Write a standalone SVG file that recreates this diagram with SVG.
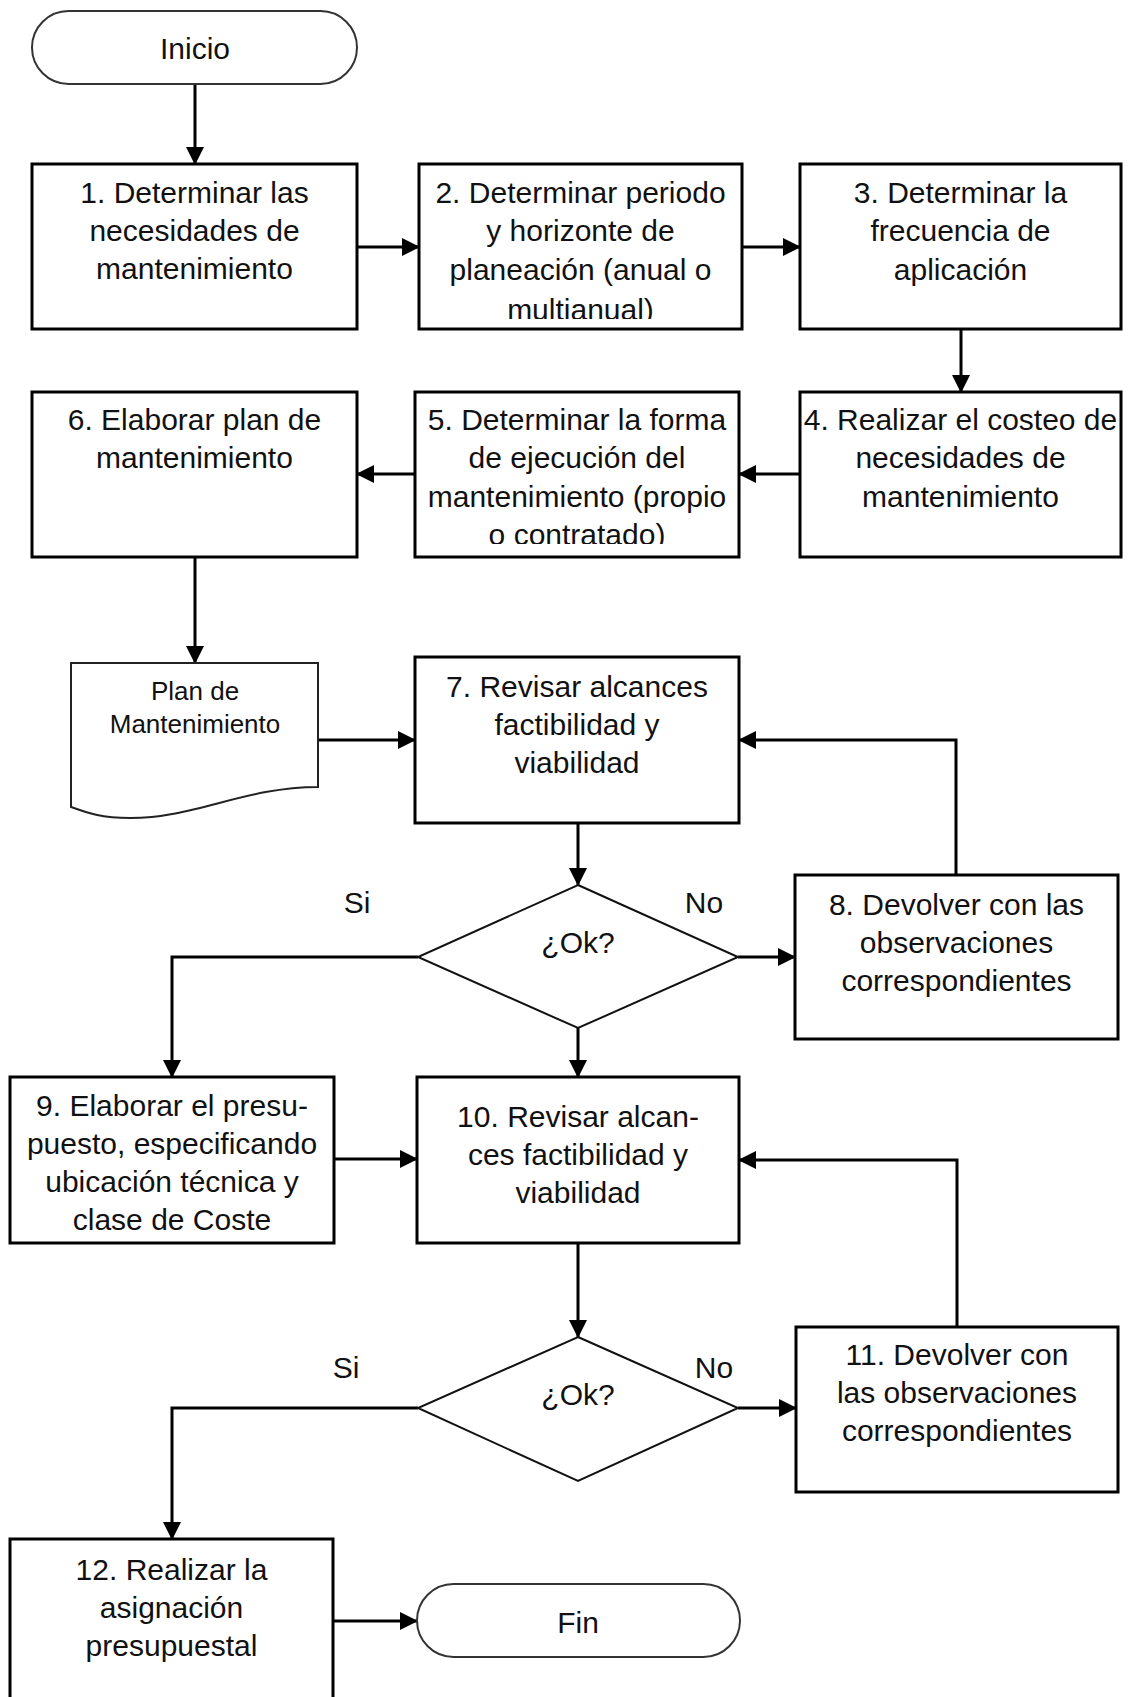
<svg xmlns="http://www.w3.org/2000/svg" width="1128" height="1697" viewBox="0 0 1128 1697">
  <defs>
    <marker id="arr" markerUnits="userSpaceOnUse" markerWidth="18" markerHeight="18" refX="17" refY="9" orient="auto">
      <path d="M0,0 L18,9 L0,18 Z" fill="#000"/>
    </marker>
    <clipPath id="clip2"><rect x="419" y="164" width="323" height="155"/></clipPath>
    <clipPath id="clip5"><rect x="415" y="392" width="324" height="152"/></clipPath>
  </defs>
  <style>
    .box { fill: #fff; stroke: #000; stroke-width: 3; }
    .term { fill: #fff; stroke: #333; stroke-width: 2; }
    .doc { fill: #fff; stroke: #222; stroke-width: 2; }
    .dia { fill: #fff; stroke: #111; stroke-width: 2; }
    .t { font-family: "Liberation Sans", Arial, sans-serif; font-size: 30px; fill: #111; text-anchor: middle; }
    .td { font-family: "Liberation Sans", Arial, sans-serif; font-size: 26px; fill: #111; text-anchor: middle; }
    .c { fill: none; stroke: #000; stroke-width: 3; marker-end: url(#arr); }
  </style>
  <rect width="1128" height="1697" fill="#fff"/>

  <g id="connectors">
    <path class="c" d="M195,84 V164"/>
    <path class="c" d="M357,247 H419"/>
    <path class="c" d="M742,247 H800"/>
    <path class="c" d="M961,329 V392"/>
    <path class="c" d="M800,474 H739"/>
    <path class="c" d="M415,474 H357"/>
    <path class="c" d="M195,557 V663"/>
    <path class="c" d="M318,740 H415"/>
    <path class="c" d="M578,823 V885"/>
    <path class="c" d="M738,957 H795"/>
    <path class="c" d="M956,875 V740 H739"/>
    <path class="c" d="M418,957 H172 V1077"/>
    <path class="c" d="M578,1028 V1077"/>
    <path class="c" d="M334,1159 H417"/>
    <path class="c" d="M957,1327 V1160 H739"/>
    <path class="c" d="M578,1243 V1337"/>
    <path class="c" d="M738,1408 H796"/>
    <path class="c" d="M418,1408 H172 V1539"/>
    <path class="c" d="M333,1621 H417"/>
  </g>

  <g id="inicio">
    <rect class="term" x="32" y="11" width="325" height="73" rx="36.5" ry="36.5"/>
    <text class="t" x="195" y="59">Inicio</text>
  </g>

  <g id="n1">
    <rect class="box" x="32" y="164" width="325" height="165"/>
    <text class="t" x="194.5" y="203">1. Determinar las</text>
    <text class="t" x="194.5" y="241">necesidades de</text>
    <text class="t" x="194.5" y="279">mantenimiento</text>
  </g>

  <g id="n2">
    <rect class="box" x="419" y="164" width="323" height="165"/>
    <text class="t" x="580.5" y="203">2. Determinar periodo</text>
    <text class="t" x="580.5" y="241">y horizonte de</text>
    <text class="t" x="580.5" y="280">planeación (anual o</text>
    <text class="t" x="580.5" y="320" clip-path="url(#clip2)">multianual)</text>
  </g>

  <g id="n3">
    <rect class="box" x="800" y="164" width="321" height="165"/>
    <text class="t" x="960.5" y="203">3. Determinar la</text>
    <text class="t" x="960.5" y="241">frecuencia de</text>
    <text class="t" x="960.5" y="280">aplicación</text>
  </g>

  <g id="n4">
    <rect class="box" x="800" y="392" width="321" height="165"/>
    <text class="t" x="960.5" y="430">4. Realizar el costeo de</text>
    <text class="t" x="960.5" y="468">necesidades de</text>
    <text class="t" x="960.5" y="507">mantenimiento</text>
  </g>

  <g id="n5">
    <rect class="box" x="415" y="392" width="324" height="165"/>
    <text class="t" x="577" y="430">5. Determinar la forma</text>
    <text class="t" x="577" y="468">de ejecución del</text>
    <text class="t" x="577" y="507">mantenimiento (propio</text>
    <text class="t" x="577" y="545" clip-path="url(#clip5)">o contratado)</text>
  </g>

  <g id="n6">
    <rect class="box" x="32" y="392" width="325" height="165"/>
    <text class="t" x="194.5" y="430">6. Elaborar plan de</text>
    <text class="t" x="194.5" y="468">mantenimiento</text>
  </g>

  <g id="doc">
    <path class="doc" d="M71,663 H318 V787 C245,787 195,818 130,818 C100,818 85,812 71,807 Z"/>
    <text class="td" x="195" y="700">Plan de</text>
    <text class="td" x="195" y="733">Mantenimiento</text>
  </g>

  <g id="n7">
    <rect class="box" x="415" y="657" width="324" height="166"/>
    <text class="t" x="577" y="697">7. Revisar alcances</text>
    <text class="t" x="577" y="735">factibilidad y</text>
    <text class="t" x="577" y="773">viabilidad</text>
  </g>

  <g id="d1">
    <polygon class="dia" points="578,885 738,957 578,1028 418,957"/>
    <text class="t" x="578" y="953">¿Ok?</text>
  </g>

  <g id="n8">
    <rect class="box" x="795" y="875" width="323" height="164"/>
    <text class="t" x="956.5" y="915">8. Devolver con las</text>
    <text class="t" x="956.5" y="953">observaciones</text>
    <text class="t" x="956.5" y="991">correspondientes</text>
  </g>

  <g id="n9">
    <rect class="box" x="10" y="1077" width="324" height="166"/>
    <text class="t" x="172" y="1116">9. Elaborar el presu-</text>
    <text class="t" x="172" y="1154">puesto, especificando</text>
    <text class="t" x="172" y="1192">ubicación técnica y</text>
    <text class="t" x="172" y="1230">clase de Coste</text>
  </g>

  <g id="n10">
    <rect class="box" x="417" y="1077" width="322" height="166"/>
    <text class="t" x="578" y="1127">10. Revisar alcan-</text>
    <text class="t" x="578" y="1165">ces factibilidad y</text>
    <text class="t" x="578" y="1203">viabilidad</text>
  </g>

  <g id="d2">
    <polygon class="dia" points="578,1337 738,1408 578,1481 418,1408"/>
    <text class="t" x="578" y="1405">¿Ok?</text>
  </g>

  <g id="n11">
    <rect class="box" x="796" y="1327" width="322" height="165"/>
    <text class="t" x="957" y="1365">11. Devolver con</text>
    <text class="t" x="957" y="1403">las observaciones</text>
    <text class="t" x="957" y="1441">correspondientes</text>
  </g>

  <g id="n12">
    <rect class="box" x="10" y="1539" width="323" height="180"/>
    <text class="t" x="171.5" y="1580">12. Realizar la</text>
    <text class="t" x="171.5" y="1618">asignación</text>
    <text class="t" x="171.5" y="1656">presupuestal</text>
  </g>

  <g id="fin">
    <rect class="term" x="417" y="1584" width="323" height="73" rx="36.5" ry="36.5"/>
    <text class="t" x="578" y="1633">Fin</text>
  </g>

  <g id="labels">
    <text class="t" x="357" y="913">Si</text>
    <text class="t" x="704" y="913">No</text>
    <text class="t" x="346" y="1378">Si</text>
    <text class="t" x="714" y="1378">No</text>
  </g>
</svg>
